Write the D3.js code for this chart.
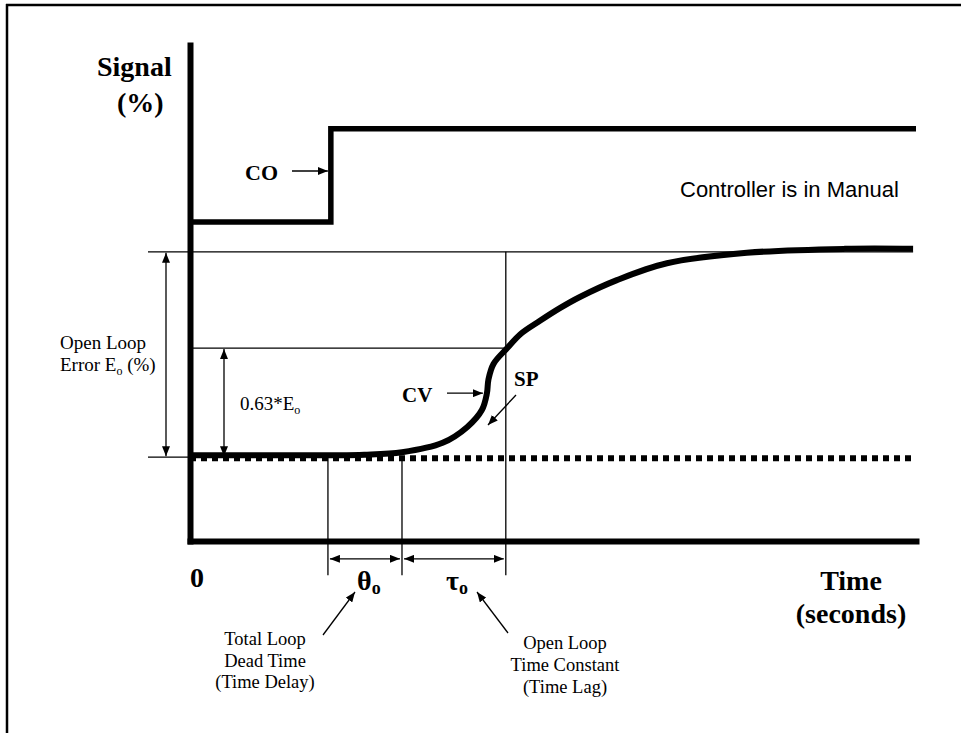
<!DOCTYPE html>
<html>
<head>
<meta charset="utf-8">
<script src="https://cdn.jsdelivr.net/npm/d3@7"></script>
<style>
body { margin: 0; background: #fff; }
svg { display: block; }
</style>
</head>
<body>
<div id="chart"></div>
<script>
// time in arbitrary units (0-100), signal in %
var coTime = [0, 19.4, 19.4, 100];
var coLevel = [64.3, 64.3, 83.1, 83.1];

var cvTime = [0, 19.3, 24.0, 29.2, 34.8, 38.2, 40.2, 40.9, 41.1, 41.8, 43.7, 45.5, 48.2, 51.0, 53.7, 58.8, 65.7, 76.7, 90.2, 99.6];
var cvLevel = [17.3, 17.3, 17.4, 17.9, 19.8, 23.0, 26.4, 29.8, 32.5, 35.7, 38.9, 41.7, 44.4, 47.0, 49.2, 52.6, 56.0, 58.1, 58.9, 58.9];

var spTime = [0, 99.6];
var spLevel = [16.7, 16.7];

// dead time start, dead time end, end of time constant
var timeMarks = [19.0, 29.2, 43.5];
// start level, final level (Eo), 63% level
var errLevels = [16.9, 58.3, 38.9];

var w = 961, h = 733;

var x = d3.scaleLinear().domain([0, 100]).range([190, 916]);
var y = d3.scaleLinear().domain([0, 100]).range([541, 45]);

var serif = "'Liberation Serif', 'Times New Roman', serif";
var sans = "'Liberation Sans', Arial, sans-serif";

var svg = d3.select("#chart").append("svg")
    .attr("width", w)
    .attr("height", h);

svg.append("rect").attr("width", w).attr("height", h).attr("fill", "#fff");

var defs = svg.append("defs");
defs.append("marker")
    .attr("id", "head")
    .attr("viewBox", "0 0 10 8")
    .attr("refX", 10)
    .attr("refY", 4)
    .attr("markerWidth", 10)
    .attr("markerHeight", 8)
    .attr("markerUnits", "userSpaceOnUse")
    .attr("orient", "auto-start-reverse")
    .append("path")
    .attr("d", "M0,0L10,4L0,8Z")
    .attr("fill", "#000");

// frame
svg.append("line").attr("x1", 6).attr("y1", 5).attr("x2", w).attr("y2", 5)
    .attr("stroke", "#000").attr("stroke-width", 2.5);
svg.append("line").attr("x1", 7).attr("y1", 4).attr("x2", 7).attr("y2", h)
    .attr("stroke", "#000").attr("stroke-width", 2.5);

function thin(x1, y1, x2, y2, arrows) {
    var l = svg.append("line")
        .attr("x1", x1).attr("y1", y1).attr("x2", x2).attr("y2", y2)
        .attr("stroke", "#000").attr("stroke-width", 1.3);
    if (arrows === "end" || arrows === "both") l.attr("marker-end", "url(#head)");
    if (arrows === "both") l.attr("marker-start", "url(#head)");
    return l;
}

// guide lines
thin(148, y(errLevels[1]), x(99.6), y(errLevels[1]));
thin(148, y(errLevels[0]), x(0), y(errLevels[0]));
thin(x(0), y(errLevels[2]), x(timeMarks[2]), y(errLevels[2]));
thin(x(timeMarks[0]), y(errLevels[0]), x(timeMarks[0]), y(-6.9));
thin(x(timeMarks[1]), y(errLevels[0]), x(timeMarks[1]), y(-6.9));
thin(x(timeMarks[2]), y(errLevels[1]), x(timeMarks[2]), y(-6.9));

// dimension arrows
thin(166, y(errLevels[1]) + 1, 166, y(errLevels[0]) - 1, "both");
thin(224, y(errLevels[2]) + 1, 224, y(errLevels[0]) - 1, "both");
thin(x(timeMarks[0]) + 2, y(-3.6), x(timeMarks[1]) - 2, y(-3.6), "both");
thin(x(timeMarks[1]) + 2, y(-3.6), x(timeMarks[2]) - 2, y(-3.6), "both");

// axes
svg.append("g")
    .attr("transform", "translate(" + x(0) + ",0)")
    .call(d3.axisLeft(y).tickValues([]).tickSizeOuter(0))
    .select(".domain").attr("stroke-width", 6).attr("stroke-linecap", "square");
svg.append("g")
    .attr("transform", "translate(0," + y(0) + ")")
    .call(d3.axisBottom(x).tickValues([]).tickSizeOuter(0))
    .select(".domain").attr("stroke-width", 6).attr("stroke-linecap", "square");

// SP
var spLine = d3.line()
    .x(function(d, i) { return x(spTime[i]); })
    .y(function(d) { return y(d); });
svg.append("path")
    .attr("d", spLine(spLevel))
    .attr("fill", "none")
    .attr("stroke", "#000")
    .attr("stroke-width", 6)
    .attr("stroke-dasharray", "6,5");

// CO
var coLine = d3.line()
    .x(function(d, i) { return x(coTime[i]); })
    .y(function(d) { return y(d); });
svg.append("path")
    .attr("d", coLine(coLevel))
    .attr("fill", "none")
    .attr("stroke", "#000")
    .attr("stroke-width", 5.5);

// CV
var cvLine = d3.line()
    .x(function(d, i) { return x(cvTime[i]); })
    .y(function(d) { return y(d); })
    .curve(d3.curveCatmullRom.alpha(0.5));
svg.append("path")
    .attr("d", cvLine(cvLevel))
    .attr("fill", "none")
    .attr("stroke", "#000")
    .attr("stroke-width", 6);

// labels
function label(txt, tx, ty, size, bold, anchor, family) {
    return svg.append("text")
        .attr("x", tx).attr("y", ty)
        .attr("font-family", family || serif)
        .attr("font-size", size)
        .attr("font-weight", bold ? "bold" : "normal")
        .attr("text-anchor", anchor || "start")
        .text(txt);
}

label("Signal", 97, 76, 28, true);
label("(%)", 117, 112, 28, true);

label("CO", 245, 180, 22, true);
thin(292, y(74.6), x(coTime[1]) - 3, y(74.6), "end");

label("Controller is in Manual", 680, 197, 22, false, "start", sans);

label("Open Loop", 60, 349, 19, false);
var err = label("Error E", 60, 371, 19, false);
err.append("tspan").attr("font-size", 12).attr("dy", 4).text("o");
err.append("tspan").attr("dy", -4).text(" (%)");

var pct = label("0.63*E", 240, 410, 19, false);
pct.append("tspan").attr("font-size", 12).attr("dy", 4).text("o");

label("CV", 402, 402, 21, true);
thin(447, y(29.8), x(40.9) - 4, y(29.8), "end");

label("SP", 514, 386, 21, true);
thin(516, 395, 488, 425, "end");

label("0", 190, 587, 28, true);

var th = label("θ", 357, 590, 28, true);
th.append("tspan").attr("font-size", 18).attr("dy", 4).text("o");
var ta = label("τ", 446, 590, 28, true);
ta.append("tspan").attr("font-size", 18).attr("dy", 4).text("o");

thin(323, 635, 355, 592, "end");
thin(508, 633, 477, 592, "end");

label("Total Loop", 265, 645, 18.5, false, "middle");
label("Dead Time", 265, 667, 18.5, false, "middle");
label("(Time Delay)", 265, 688, 18.5, false, "middle");

label("Open Loop", 565, 649, 18.5, false, "middle");
label("Time Constant", 565, 671, 18.5, false, "middle");
label("(Time Lag)", 565, 693, 18.5, false, "middle");

label("Time", 851, 590, 28, true, "middle");
label("(seconds)", 851, 623, 28, true, "middle");
</script>
</body>
</html>
